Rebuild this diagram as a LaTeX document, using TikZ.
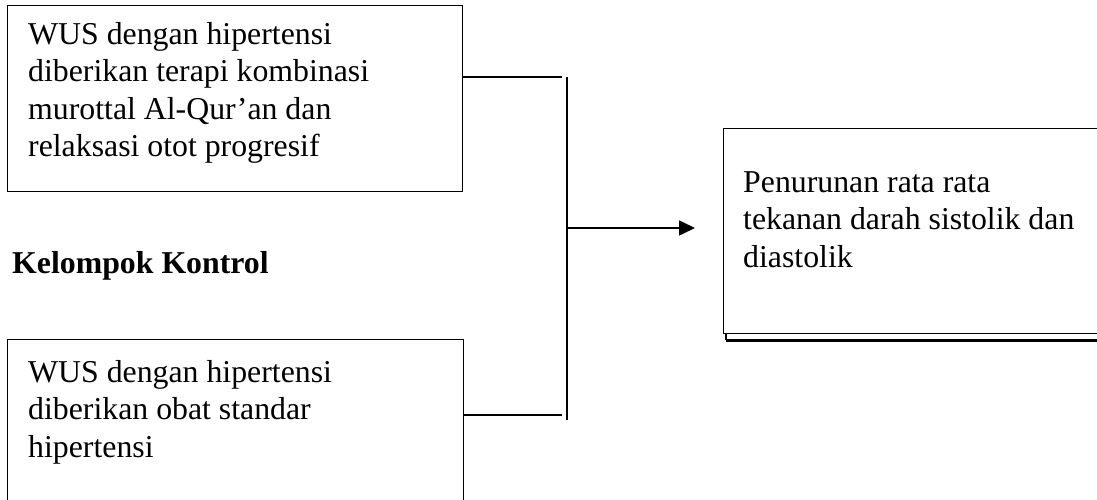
\documentclass[tikz,border=0pt]{standalone}
\usepackage{fontspec}
\setmainfont{Liberation Serif}
\usetikzlibrary{arrows.meta}
\tikzset{
  boxline/.style={draw=black, line width=1.3pt},
  txt/.style={inner sep=0pt, align=left, anchor=base west, font=\fontsize{31.8}{37.5}\selectfont},
  conn/.style={draw=black, line width=1.6pt},
}
\begin{document}
\begin{tikzpicture}[x=1pt,y=-1pt]
\useasboundingbox (0,0) rectangle (1097,500);
% boxes
\node[boxline, minimum width=455pt, minimum height=186pt, anchor=north west, inner sep=0pt] (a) at (7,5) {};
\node[boxline, minimum width=456pt, minimum height=180pt, anchor=north west, inner sep=0pt] (b) at (7,339) {};
\node[boxline, minimum width=390pt, minimum height=205pt, anchor=north west, inner sep=0pt] (c) at (723,128) {};
\draw[line width=3pt] (c.south west) ++(2.5,6) coordinate (cs) -- (c.south east |- cs);
\draw[line width=2pt] (c.south west) ++(2.5,0) -- (cs);
% texts (base = baseline of last line)
\node[txt] (ta) at (28,157) {WUS dengan hipertensi\\diberikan terapi kombinasi\\murottal Al-Qur’an dan\\relaksasi otot progresif};
\node[txt, font=\fontsize{31.8}{37.5}\selectfont\bfseries] (k) at (12,273) {Kelompok Kontrol};
\node[txt] (tb) at (28,457) {WUS dengan hipertensi\\diberikan obat standar\\hipertensi};
\node[txt] (tc) at (743,267) {Penurunan rata rata\\tekanan darah sistolik dan\\diastolik};
% connectors
\coordinate (j1) at (562,77);
\coordinate (j2) at (562,415);
\coordinate (vt) at (567,77);
\coordinate (vb) at (567,420);
\coordinate (vm) at (567,228);
\coordinate (ae) at (695,228);
\draw[conn] (a.north east |- j1) -- (j1);
\draw[conn] (b.north east |- j2) -- (j2);
\draw[conn] (vt) -- (vb);
\draw[conn, -{Triangle[length=16pt,width=15pt]}] (vm) -- (ae);
\end{tikzpicture}
\end{document}
